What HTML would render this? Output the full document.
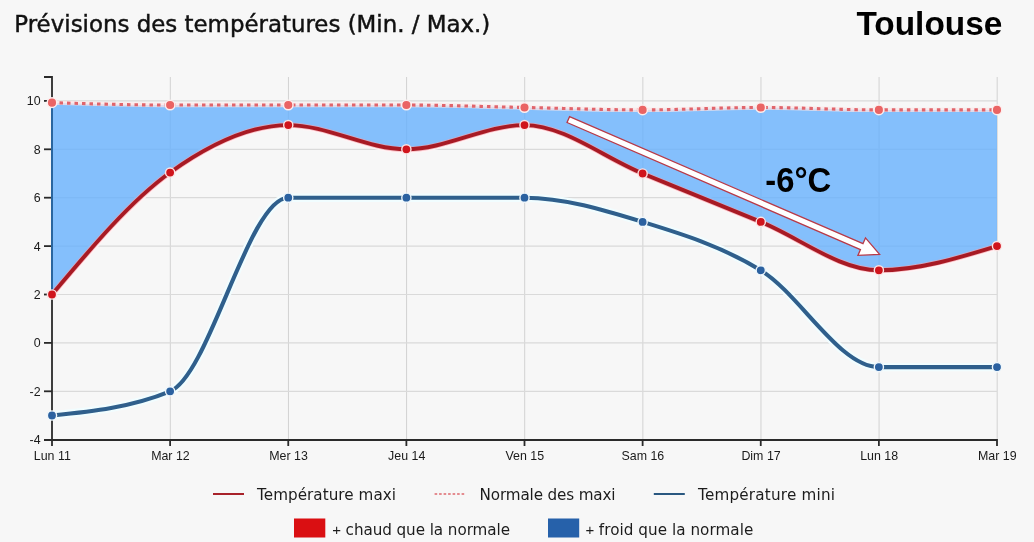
<!DOCTYPE html>
<html lang="fr"><head><meta charset="utf-8"><title>Prévisions des températures - Toulouse</title>
<style>html,body{margin:0;padding:0;background:#f7f7f7;}body{width:1034px;height:542px;overflow:hidden;position:relative;}svg{display:block;position:absolute;left:0;top:0;}
.t{font-family:"DejaVu Sans","Liberation Sans",sans-serif;fill:#1c1c1c;}
.p{font-family:"Liberation Sans",Arial,sans-serif;fill:#1c1c1c;}
.h{fill:#111;stroke:#111;stroke-width:0.45px;}
.a{font-family:"Liberation Sans",Arial,sans-serif;font-size:12.4px;fill:#1a1a1a;}
.b{font-family:"Liberation Sans",Arial,sans-serif;font-weight:bold;fill:#000;}
</style></head><body>
<svg width="1034" height="542" viewBox="0 0 1034 542">
<rect width="1034" height="542" fill="#f7f7f7"/>
<g stroke="#d2d2d2" stroke-width="1" fill="none"><line x1="170.32" x2="170.32" y1="77.00" y2="440.00"/><line x1="288.45" x2="288.45" y1="77.00" y2="440.00"/><line x1="406.57" x2="406.57" y1="77.00" y2="440.00"/><line x1="524.70" x2="524.70" y1="77.00" y2="440.00"/><line x1="642.83" x2="642.83" y1="77.00" y2="440.00"/><line x1="760.95" x2="760.95" y1="77.00" y2="440.00"/><line x1="879.08" x2="879.08" y1="77.00" y2="440.00"/><line x1="997.20" x2="997.20" y1="77.00" y2="440.00"/></g>
<g stroke="#dadada" stroke-width="1.2" fill="none"><line x1="52.00" x2="997.00" y1="391.30" y2="391.30"/><line x1="52.00" x2="997.00" y1="342.90" y2="342.90"/><line x1="52.00" x2="997.00" y1="294.50" y2="294.50"/><line x1="52.00" x2="997.00" y1="246.10" y2="246.10"/><line x1="52.00" x2="997.00" y1="197.70" y2="197.70"/><line x1="52.00" x2="997.00" y1="149.30" y2="149.30"/><line x1="52.00" x2="997.00" y1="100.90" y2="100.90"/></g>
<g stroke="#2a2a2a" stroke-width="1.8" fill="none">
<path d="M44,77.00H52.00V446.00"/>
<path d="M44,440.00H997.00V446.00"/>
<line x1="44" x2="52.00" y1="391.30" y2="391.30"/>
<line x1="44" x2="52.00" y1="342.90" y2="342.90"/>
<line x1="44" x2="52.00" y1="294.50" y2="294.50"/>
<line x1="44" x2="52.00" y1="246.10" y2="246.10"/>
<line x1="44" x2="52.00" y1="197.70" y2="197.70"/>
<line x1="44" x2="52.00" y1="149.30" y2="149.30"/>
<line x1="44" x2="52.00" y1="100.90" y2="100.90"/>
<line x1="170.12" x2="170.12" y1="440.00" y2="446.00"/>
<line x1="288.25" x2="288.25" y1="440.00" y2="446.00"/>
<line x1="406.38" x2="406.38" y1="440.00" y2="446.00"/>
<line x1="524.50" x2="524.50" y1="440.00" y2="446.00"/>
<line x1="642.62" x2="642.62" y1="440.00" y2="446.00"/>
<line x1="760.75" x2="760.75" y1="440.00" y2="446.00"/>
<line x1="878.88" x2="878.88" y1="440.00" y2="446.00"/>
</g>
<path d="M52.00,415.50C91.38,411.47,130.75,407.43,170.12,391.30C209.50,375.17,248.88,197.70,288.25,197.70C327.62,197.70,367.00,197.70,406.38,197.70C445.75,197.70,485.12,197.70,524.50,197.70C563.88,197.70,603.25,209.80,642.62,221.90C682.00,234.00,721.38,246.10,760.75,270.30C800.12,294.50,839.50,367.10,878.88,367.10C918.25,367.10,957.62,367.10,997.00,367.10" fill="none" stroke="#f1fdff" stroke-width="8.4" stroke-linecap="round"/>
<path d="M52.00,294.50C91.38,247.63,130.75,200.77,170.12,172.53C209.50,144.30,248.88,125.10,288.25,125.10C327.62,125.10,367.00,149.30,406.38,149.30C445.75,149.30,485.12,125.10,524.50,125.10C563.88,125.10,603.25,157.37,642.62,173.50C682.00,189.63,721.38,205.77,760.75,221.90C800.12,238.03,839.50,270.30,878.88,270.30C918.25,270.30,957.62,258.20,997.00,246.10" fill="none" stroke="#fff4f5" stroke-width="8"/>
<path d="M52.00,102.64C91.38,103.85,130.75,105.06,170.12,105.06C209.50,105.06,248.88,105.06,288.25,105.06C327.62,105.06,367.00,105.06,406.38,105.06C445.75,105.06,485.12,106.68,524.50,107.48C563.88,108.29,603.25,109.90,642.62,109.90C682.00,109.90,721.38,107.48,760.75,107.48C800.12,107.48,839.50,109.90,878.88,109.90C918.25,109.90,957.62,109.90,997.00,109.90L997.00,246.10C957.62,258.20,918.25,270.30,878.88,270.30C839.50,270.30,800.12,238.03,760.75,221.90C721.38,205.77,682.00,189.63,642.62,173.50C603.25,157.37,563.88,125.10,524.50,125.10C485.12,125.10,445.75,149.30,406.38,149.30C367.00,149.30,327.62,125.10,288.25,125.10C248.88,125.10,209.50,144.30,170.12,172.53C130.75,200.77,91.38,247.63,52.00,294.50Z" fill="#67b0fd" fill-opacity="0.8" stroke="none"/>
<text class="a" x="40.6" y="444.20" text-anchor="end">-4</text>
<text class="a" x="40.6" y="395.80" text-anchor="end">-2</text>
<text class="a" x="40.6" y="347.40" text-anchor="end">0</text>
<text class="a" x="40.6" y="299.00" text-anchor="end">2</text>
<text class="a" x="40.6" y="250.60" text-anchor="end">4</text>
<text class="a" x="40.6" y="202.20" text-anchor="end">6</text>
<text class="a" x="40.6" y="153.80" text-anchor="end">8</text>
<text class="a" x="40.6" y="105.40" text-anchor="end">10</text>
<text class="a" x="52.30" y="460" text-anchor="middle">Lun 11</text>
<text class="a" x="170.43" y="460" text-anchor="middle">Mar 12</text>
<text class="a" x="288.55" y="460" text-anchor="middle">Mer 13</text>
<text class="a" x="406.68" y="460" text-anchor="middle">Jeu 14</text>
<text class="a" x="524.80" y="460" text-anchor="middle">Ven 15</text>
<text class="a" x="642.92" y="460" text-anchor="middle">Sam 16</text>
<text class="a" x="761.05" y="460" text-anchor="middle">Dim 17</text>
<text class="a" x="879.17" y="460" text-anchor="middle">Lun 18</text>
<text class="a" x="997.30" y="460" text-anchor="middle">Mar 19</text>
<line x1="52.00" x2="52.00" y1="102.64" y2="294.50" stroke="#2a669f" stroke-width="2"/>
<path d="M52.00,415.50C91.38,411.47,130.75,407.43,170.12,391.30C209.50,375.17,248.88,197.70,288.25,197.70C327.62,197.70,367.00,197.70,406.38,197.70C445.75,197.70,485.12,197.70,524.50,197.70C563.88,197.70,603.25,209.80,642.62,221.90C682.00,234.00,721.38,246.10,760.75,270.30C800.12,294.50,839.50,367.10,878.88,367.10C918.25,367.10,957.62,367.10,997.00,367.10" fill="none" stroke="#2f5f8c" stroke-width="4.1" stroke-linecap="round"/>
<path d="M52.00,102.64C91.38,103.85,130.75,105.06,170.12,105.06C209.50,105.06,248.88,105.06,288.25,105.06C327.62,105.06,367.00,105.06,406.38,105.06C445.75,105.06,485.12,106.68,524.50,107.48C563.88,108.29,603.25,109.90,642.62,109.90C682.00,109.90,721.38,107.48,760.75,107.48C800.12,107.48,839.50,109.90,878.88,109.90C918.25,109.90,957.62,109.90,997.00,109.90" fill="none" stroke="#fce6e7" stroke-opacity="0.75" stroke-width="4.4"/>
<path d="M52.00,102.64C91.38,103.85,130.75,105.06,170.12,105.06C209.50,105.06,248.88,105.06,288.25,105.06C327.62,105.06,367.00,105.06,406.38,105.06C445.75,105.06,485.12,106.68,524.50,107.48C563.88,108.29,603.25,109.90,642.62,109.90C682.00,109.90,721.38,107.48,760.75,107.48C800.12,107.48,839.50,109.90,878.88,109.90C918.25,109.90,957.62,109.90,997.00,109.90" fill="none" stroke="#e0656c" stroke-width="3.1" stroke-dasharray="3.5,4"/>
<path d="M52.00,294.50C91.38,247.63,130.75,200.77,170.12,172.53C209.50,144.30,248.88,125.10,288.25,125.10C327.62,125.10,367.00,149.30,406.38,149.30C445.75,149.30,485.12,125.10,524.50,125.10C563.88,125.10,603.25,157.37,642.62,173.50C682.00,189.63,721.38,205.77,760.75,221.90C800.12,238.03,839.50,270.30,878.88,270.30C918.25,270.30,957.62,258.20,997.00,246.10" fill="none" stroke="#f3a3ab" stroke-opacity="0.7" stroke-width="5.4"/>
<path d="M52.00,294.50C91.38,247.63,130.75,200.77,170.12,172.53C209.50,144.30,248.88,125.10,288.25,125.10C327.62,125.10,367.00,149.30,406.38,149.30C445.75,149.30,485.12,125.10,524.50,125.10C563.88,125.10,603.25,157.37,642.62,173.50C682.00,189.63,721.38,205.77,760.75,221.90C800.12,238.03,839.50,270.30,878.88,270.30C918.25,270.30,957.62,258.20,997.00,246.10" fill="none" stroke="#a81a24" stroke-width="3.9"/>
<circle cx="52.00" cy="415.50" r="4.6" fill="#2b61a0" stroke="#eef6fb" stroke-width="1.4"/>
<circle cx="170.12" cy="391.30" r="4.6" fill="#2b61a0" stroke="#eef6fb" stroke-width="1.4"/>
<circle cx="288.25" cy="197.70" r="4.6" fill="#2b61a0" stroke="#eef6fb" stroke-width="1.4"/>
<circle cx="406.38" cy="197.70" r="4.6" fill="#2b61a0" stroke="#eef6fb" stroke-width="1.4"/>
<circle cx="524.50" cy="197.70" r="4.6" fill="#2b61a0" stroke="#eef6fb" stroke-width="1.4"/>
<circle cx="642.62" cy="221.90" r="4.6" fill="#2b61a0" stroke="#eef6fb" stroke-width="1.4"/>
<circle cx="760.75" cy="270.30" r="4.6" fill="#2b61a0" stroke="#eef6fb" stroke-width="1.4"/>
<circle cx="878.88" cy="367.10" r="4.6" fill="#2b61a0" stroke="#eef6fb" stroke-width="1.4"/>
<circle cx="997.00" cy="367.10" r="4.6" fill="#2b61a0" stroke="#eef6fb" stroke-width="1.4"/>
<circle cx="52.00" cy="102.64" r="4.8" fill="#ea6464" stroke="#fdeeee" stroke-width="1.5"/>
<circle cx="170.12" cy="105.06" r="4.8" fill="#ea6464" stroke="#fdeeee" stroke-width="1.5"/>
<circle cx="288.25" cy="105.06" r="4.8" fill="#ea6464" stroke="#fdeeee" stroke-width="1.5"/>
<circle cx="406.38" cy="105.06" r="4.8" fill="#ea6464" stroke="#fdeeee" stroke-width="1.5"/>
<circle cx="524.50" cy="107.48" r="4.8" fill="#ea6464" stroke="#fdeeee" stroke-width="1.5"/>
<circle cx="642.62" cy="109.90" r="4.8" fill="#ea6464" stroke="#fdeeee" stroke-width="1.5"/>
<circle cx="760.75" cy="107.48" r="4.8" fill="#ea6464" stroke="#fdeeee" stroke-width="1.5"/>
<circle cx="878.88" cy="109.90" r="4.8" fill="#ea6464" stroke="#fdeeee" stroke-width="1.5"/>
<circle cx="997.00" cy="109.90" r="4.8" fill="#ea6464" stroke="#fdeeee" stroke-width="1.5"/>
<circle cx="52.00" cy="294.50" r="4.6" fill="#d0141c" stroke="#fbe4e4" stroke-width="1.4"/>
<circle cx="170.12" cy="172.53" r="4.6" fill="#d0141c" stroke="#fbe4e4" stroke-width="1.4"/>
<circle cx="288.25" cy="125.10" r="4.6" fill="#d0141c" stroke="#fbe4e4" stroke-width="1.4"/>
<circle cx="406.38" cy="149.30" r="4.6" fill="#d0141c" stroke="#fbe4e4" stroke-width="1.4"/>
<circle cx="524.50" cy="125.10" r="4.6" fill="#d0141c" stroke="#fbe4e4" stroke-width="1.4"/>
<circle cx="642.62" cy="173.50" r="4.6" fill="#d0141c" stroke="#fbe4e4" stroke-width="1.4"/>
<circle cx="760.75" cy="221.90" r="4.6" fill="#d0141c" stroke="#fbe4e4" stroke-width="1.4"/>
<circle cx="878.88" cy="270.30" r="4.6" fill="#d0141c" stroke="#fbe4e4" stroke-width="1.4"/>
<circle cx="997.00" cy="246.10" r="4.6" fill="#d0141c" stroke="#fbe4e4" stroke-width="1.4"/>
<g transform="translate(568.30,119.60) rotate(23.414)"><path d="M0,-3.20L319.73,-3.20L319.73,-9.50L339.23,0L319.73,9.50L319.73,3.20L0,3.20Z" fill="#ffffff" stroke="#b83a48" stroke-width="1.3" stroke-linejoin="miter"/></g>
<text class="b" transform="translate(765.3,191.8) scale(1,1.06)" x="0" y="0" font-size="32.8">-6°C</text>
<text class="t h" x="14.3" y="31.9" font-size="22.9" textLength="476" lengthAdjust="spacing">Prévisions des températures (Min. / Max.)</text>
<text class="b" x="856.4" y="35.4" font-size="33.4">Toulouse</text>
<line x1="213" x2="244" y1="494" y2="494" stroke="#a8222a" stroke-width="2"/>
<text class="t" x="257" y="500" font-size="15.2" textLength="139" lengthAdjust="spacing">Température maxi</text>
<line x1="434.6" x2="466" y1="494" y2="494" stroke="#e48c90" stroke-width="2" stroke-dasharray="2.6,1.9"/>
<text class="t" x="479.6" y="500" font-size="15.2" textLength="136" lengthAdjust="spacing">Normale des maxi</text>
<line x1="653.8" x2="684.8" y1="494" y2="494" stroke="#2a5880" stroke-width="2"/>
<text class="t" x="698" y="500" font-size="15.2" textLength="137" lengthAdjust="spacing">Température mini</text>
<rect x="294" y="518.5" width="31.3" height="19" fill="#da0f12"/>
<text class="p" x="336.6" y="535" font-size="15" text-anchor="middle">+</text>
<text class="t" x="345.6" y="535" font-size="15.2" textLength="164.4" lengthAdjust="spacing">chaud que la normale</text>
<rect x="548" y="518.5" width="31.2" height="19" fill="#2661aa"/>
<text class="p" x="590" y="535" font-size="15" text-anchor="middle">+</text>
<text class="t" x="598.8" y="535" font-size="15.2" textLength="154.5" lengthAdjust="spacing">froid que la normale</text>
</svg></body></html>
